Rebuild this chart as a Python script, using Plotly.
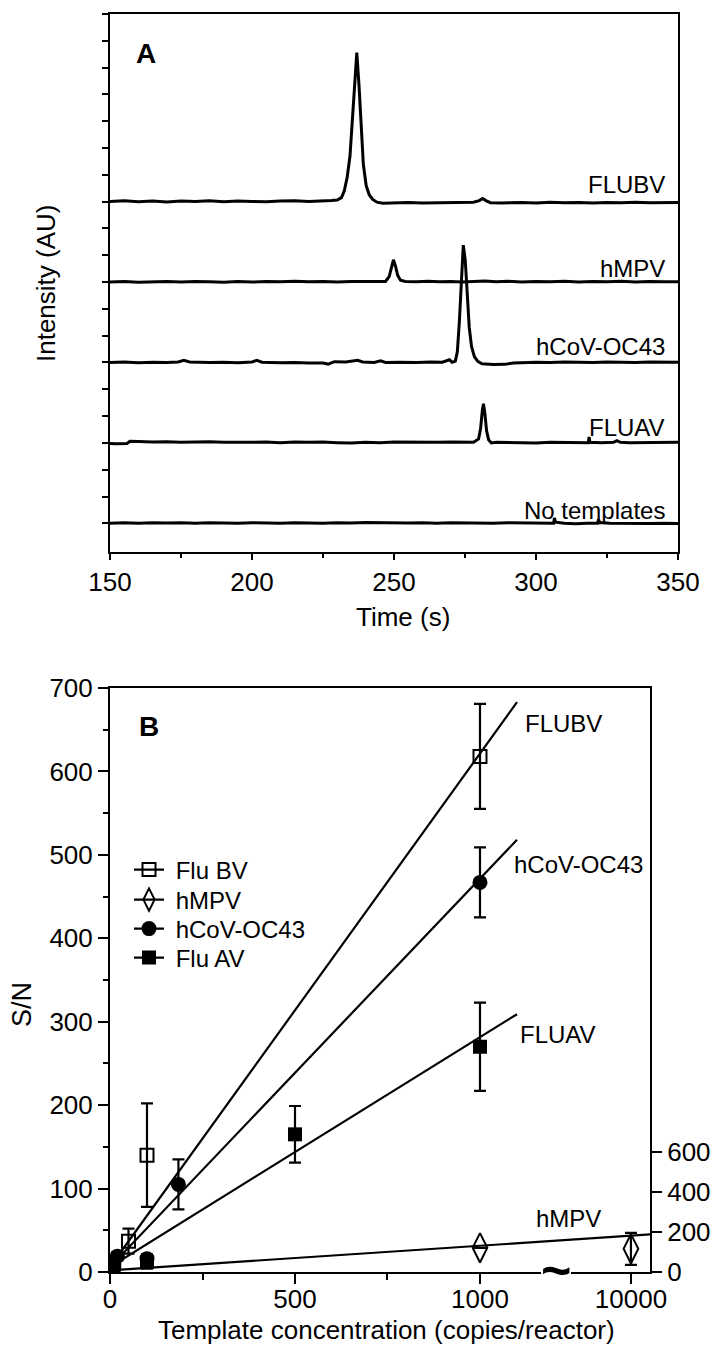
import plotly.graph_objects as go

W, H = 718, 1346
FONT = "Liberation Sans, Arial, Helvetica, sans-serif"


def xp(px):
    return px / W


def yp(py):
    return 1 - py / H


# ---------------- Panel A: electropherograms (time s, intensity AU above baseline) ----------------
TRACE_NAMES = ["FLUBV", "hMPV", "hCoV-OC43", "FLUAV", "No templates"]
TRACE_OFFSETS = [13, 10, 7, 4, 1]

FLUBV_TRACE = [
    (150, 0.01), (155, 0.03), (160, 0.0), (165, 0.02), (170, -0.01), (175, 0.02), (180, 0.01),
    (185, 0.03), (190, 0.0), (195, 0.02), (200, 0.01), (205, 0.0), (210, 0.02), (215, 0.03),
    (220, 0.01), (225, 0.02), (228, 0.04), (230, 0.06), (231.5, 0.15), (232.5, 0.4), (233.5, 0.9),
    (234.5, 1.7), (235.3, 2.9), (236.1, 4.4), (236.9, 5.56), (237.7, 4.3), (238.4, 2.7),
    (239.2, 1.4), (240.2, 0.6), (241.3, 0.25), (242.5, 0.08), (244, -0.02), (246, -0.06),
    (250, -0.05), (255, -0.03), (260, -0.05), (265, -0.04), (270, -0.05), (275, -0.03),
    (278, -0.02), (280, 0.04), (281.2, 0.12), (282.5, 0.03), (284, -0.04), (288, -0.05),
    (295, -0.03), (300, -0.05), (305, -0.02), (310, -0.04), (315, -0.03), (320, -0.05),
    (325, -0.03), (330, -0.04), (335, -0.02), (340, -0.04), (345, -0.03), (350, -0.03),
]
HMPV_TRACE = [
    (150, 0.0), (155, 0.02), (160, -0.01), (165, 0.01), (170, 0.02), (175, 0.0), (180, 0.02),
    (185, 0.01), (190, -0.01), (195, 0.02), (200, 0.0), (205, 0.02), (210, 0.01), (215, 0.03),
    (220, 0.01), (225, 0.02), (230, 0.0), (235, 0.02), (240, 0.01), (244, 0.03), (247, 0.02),
    (248.3, 0.2), (249.1, 0.6), (249.8, 0.83), (250.5, 0.6), (251.3, 0.25), (252.3, 0.07),
    (254, 0.02), (258, 0.01), (262, 0.03), (266, 0.01), (270, 0.02), (274, 0.0), (278, 0.02),
    (282, 0.04), (286, 0.01), (290, 0.03), (295, 0.0), (300, 0.02), (305, 0.01), (310, 0.03),
    (315, 0.0), (320, 0.02), (325, 0.01), (330, 0.03), (335, 0.0), (340, 0.02), (345, 0.01),
    (350, 0.01),
]
HCOV_TRACE = [
    (150, 0.0), (155, 0.02), (160, -0.01), (165, 0.01), (170, 0.0), (174, 0.02), (176, 0.08),
    (178, 0.02), (185, 0.0), (190, 0.01), (195, -0.01), (200, 0.02), (201.7, 0.08), (203.5, 0.01),
    (210, -0.01), (215, 0.0), (220, -0.02), (225, -0.02), (226.8, -0.06), (229, 0.03), (233, 0.02),
    (237.2, 0.08), (239, 0.02), (243, 0.0), (245.3, 0.06), (247, 0.0), (252, 0.01), (258, 0.0),
    (263, 0.02), (267, 0.01), (269.5, 0.1), (270.5, 0.01), (271.6, 0.05), (272.3, 0.4),
    (273, 1.5), (273.7, 3.2), (274.4, 4.38), (275.1, 3.8), (275.8, 2.5), (276.5, 1.3),
    (277.3, 0.6), (278.3, 0.22), (279.5, 0.04), (281, -0.05), (285, -0.08), (289, -0.07),
    (292, -0.02), (296, 0.0), (300, 0.01), (305, 0.0), (310, 0.02), (315, 0.01), (320, 0.0),
    (325, 0.02), (330, 0.01), (335, 0.0), (340, 0.02), (345, 0.01), (350, 0.01),
]
FLUAV_TRACE = [
    (150, -0.02), (152, -0.03), (156, -0.02), (157, 0.06), (160, 0.05), (165, 0.03), (170, 0.04),
    (175, 0.02), (180, 0.03), (185, 0.04), (190, 0.02), (195, 0.03), (200, 0.02), (205, 0.03),
    (210, 0.01), (215, 0.03), (220, 0.02), (225, 0.03), (230, 0.01), (235, 0.0), (240, 0.02),
    (245, 0.01), (250, 0.03), (255, 0.02), (260, 0.01), (265, 0.02), (270, 0.03), (275, 0.01),
    (278, 0.02), (279.8, 0.15), (280.5, 0.55), (281.1, 1.2), (281.5, 1.46), (282, 1.1),
    (282.6, 0.45), (283.3, 0.12), (284.3, 0.0), (286, 0.02), (290, 0.01), (295, 0.02),
    (300, 0.0), (305, 0.02), (310, 0.01), (315, 0.02), (318.4, 0.01), (318.7, 0.22),
    (319.0, 0.02), (323, 0.01), (327.3, 0.02), (328.5, 0.08), (329.7, 0.02), (333, 0.01),
    (338, 0.02), (343, 0.01), (350, 0.02),
]
NOTEMPLATE_TRACE = [
    (150, 0.0), (155, 0.02), (160, 0.0), (165, 0.02), (170, 0.01), (175, 0.02), (180, 0.0),
    (185, 0.02), (190, 0.01), (195, 0.0), (200, 0.02), (205, 0.01), (210, 0.0), (215, 0.02),
    (220, 0.01), (225, 0.0), (230, 0.02), (235, 0.01), (240, 0.03), (245, 0.02), (250, 0.03),
    (255, 0.01), (260, 0.02), (265, 0.0), (270, 0.02), (275, 0.01), (280, 0.02), (285, 0.0),
    (290, 0.02), (295, 0.01), (300, 0.0), (303, 0.01), (306.2, 0.0), (306.5, 0.2), (306.9, 0.04),
    (310, 0.0), (314, -0.02), (318, 0.0), (321.7, 0.0), (322, 0.15), (322.4, 0.03), (326, 0.0),
    (330, -0.01), (335, 0.0), (340, -0.01), (345, 0.0), (350, -0.01),
]
TRACES_A = [FLUBV_TRACE, HMPV_TRACE, HCOV_TRACE, FLUAV_TRACE, NOTEMPLATE_TRACE]
TIME_TICKS = [150, 200, 250, 300, 350]

# ---------------- Panel B: S/N vs template concentration ----------------
FLUBV_X = [10, 50, 100, 1000]
FLUBV_Y = [12, 37, 140, 618]
FLUBV_ERR = [5, 15, 62, 63]

HCOV_X = [5, 20, 100, 185, 1000]
HCOV_Y = [10, 19, 16, 105, 467]
HCOV_ERR = [4, 5, 5, 30, 42]

FLUAV_X = [10, 100, 500, 1000]
FLUAV_Y = [8, 12, 165, 270]
FLUAV_ERR = [3, 8, 34, 53]

HMPV_X = [1000]
HMPV_Y = [29]
HMPV_ERR = [0]
# value at 10000 copies, read on the right-hand axis
HMPV_HIGH_X = [10000]
HMPV_HIGH_Y = [116]
HMPV_HIGH_ERR = [80]

# fitted straight lines (start / end points, left-axis units)
FIT_NAMES = ["FLUBV", "hCoV-OC43", "FLUAV", "hMPV"]
FIT_X = [[0, 1100], [0, 1100], [0, 1100], [0, 1459.5]]
FIT_Y = [[6, 683], [6, 518], [6, 309], [2, 45]]

CONC_TICKS = [0, 500, 1000, 10000]
CONC_TICK_LABELS = ["0", "500", "1000", "10000"]
CONC_MINOR = [250, 750]
SN_TICKS = [0, 100, 200, 300, 400, 500, 600, 700]
RIGHT_TICKS = [0, 200, 400, 600]

# broken x axis: 10000 copies is drawn after the break
BROKEN_POS = {10000: 1408}


def cx(v):
    return BROKEN_POS.get(v, v)


fig = go.Figure()

# Panel A traces
for pts, off in zip(TRACES_A, TRACE_OFFSETS):
    fig.add_trace(go.Scatter(
        x=[p[0] for p in pts], y=[p[1] + off for p in pts], mode="lines",
        line=dict(color="black", width=3), xaxis="x", yaxis="y", showlegend=False,
        hoverinfo="skip"))

# Panel B fit lines
for fx, fy in zip(FIT_X, FIT_Y):
    fig.add_trace(go.Scatter(x=fx, y=fy, mode="lines", line=dict(color="black", width=2.2),
                             xaxis="x2", yaxis="y2", showlegend=False, hoverinfo="skip"))

EB = dict(type="data", thickness=2.2, width=6, color="black")

SERIES = [
    ("Flu BV", FLUBV_X, FLUBV_Y, FLUBV_ERR, dict(symbol="square-open", size=13, color="black",
                                                 line=dict(width=2, color="black"))),
    ("hMPV", HMPV_X, HMPV_Y, HMPV_ERR, dict(symbol="diamond-tall-open", size=21, color="black",
                                           line=dict(width=2, color="black"))),
    ("hCoV-OC43", HCOV_X, HCOV_Y, HCOV_ERR, dict(symbol="circle", size=15, color="black")),
    ("Flu AV", FLUAV_X, FLUAV_Y, FLUAV_ERR, dict(symbol="square", size=14, color="black")),
]
for name, xs, ys, es, mk in SERIES:
    fig.add_trace(go.Scatter(x=[cx(v) for v in xs], y=ys, mode="markers", marker=mk,
                             error_y=dict(array=es, **EB), xaxis="x2", yaxis="y2",
                             showlegend=False, hoverinfo="skip"))

fig.add_trace(go.Scatter(x=[cx(v) for v in HMPV_HIGH_X], y=HMPV_HIGH_Y, mode="markers",
                         marker=SERIES[1][4], error_y=dict(array=HMPV_HIGH_ERR, **EB),
                         xaxis="x2", yaxis="y3", showlegend=False, hoverinfo="skip"))

# legend entries (one legend per entry for exact spacing)
LEG_NAMES = ["legend", "legend2", "legend3", "legend4"]
for (name, xs, ys, es, mk), lg in zip(SERIES, LEG_NAMES):
    fig.add_trace(go.Scatter(x=[None], y=[None], mode="lines+markers", name="\u00a0" + name,
                             marker=dict(mk), line=dict(color="black", width=2.2),
                             xaxis="x2", yaxis="y2", showlegend=True, legend=lg))

LEG_X = 129
LEG_Y = [870, 900, 929, 958]
leg_common = dict(xanchor="left", yanchor="middle", bgcolor="rgba(0,0,0,0)", borderwidth=0,
                  font=dict(size=24, family=FONT, color="black"), itemwidth=30)
legends = {lg: dict(x=xp(LEG_X), y=yp(ly), **leg_common) for lg, ly in zip(LEG_NAMES, LEG_Y)}

axis_common = dict(showline=True, linecolor="black", linewidth=2, mirror=True, showgrid=False,
                   zeroline=False, ticks="outside", tickcolor="black", tickwidth=2,
                   automargin=False, tickfont=dict(size=26, family=FONT, color="black"))

annotations = []


def ann(text, x, y, size=24, xanchor="center", yanchor="middle", bold=False, angle=0):
    annotations.append(dict(text=("<b>%s</b>" % text) if bold else text, x=xp(x), y=yp(y),
                            xref="paper", yref="paper", showarrow=False, xanchor=xanchor,
                            yanchor=yanchor, textangle=angle,
                            font=dict(size=size, family=FONT, color="black")))


# Panel A labels
for name, cy in zip(TRACE_NAMES, [185, 269, 347, 427, 510]):
    ann(name, 667, cy, size=24, xanchor="right")
ann("A", 145.5, 53.5, size=28, bold=True)
ann("Intensity (AU)", 46, 283, size=26, angle=-90)
ann("Time (s)", 403, 617, size=26)

# Panel B labels
for name, lx, cy in zip(FIT_NAMES, [523, 512, 518, 534], [723, 864, 1034.5, 1218]):
    ann(name, lx, cy, size=24, xanchor="left")
ann("B", 149.3, 726.3, size=28, bold=True)
ann("S/N", 22, 1005, size=27, angle=-90)
ann("Template concentration (copies/reactor)", 386, 1330, size=26)
ann("~", 556, 1270, size=52, bold=True)

shapes = [dict(type="rect", xref="paper", yref="paper", x0=xp(541), x1=xp(571),
               y0=yp(1276), y1=yp(1268), fillcolor="white", line=dict(width=0), layer="above")]

fig.update_layout(
    template="none",
    width=W, height=H, margin=dict(l=0, r=0, t=0, b=0, pad=0, autoexpand=False),
    paper_bgcolor="white", plot_bgcolor="white",
    font=dict(family=FONT, color="black"),
    xaxis=dict(domain=[xp(110), xp(678)], range=[150, 350], anchor="y", tickvals=TIME_TICKS,
               ticklen=6, minor=dict(tickvals=[175, 225, 275, 325], ticklen=4, ticks="outside",
                                     tickcolor="black", tickwidth=2), **axis_common),
    yaxis=dict(domain=[yp(552), yp(14)], range=[-0.07, 20], anchor="x",
               tickvals=list(range(1, 21)), showticklabels=False, ticklen=6, **axis_common),
    xaxis2=dict(domain=[xp(110), xp(650)], range=[0, 1459.5], anchor="y2",
                tickvals=[cx(v) for v in CONC_TICKS], ticktext=CONC_TICK_LABELS, ticklen=10,
                ticklabelstandoff=-7,
                minor=dict(tickvals=CONC_MINOR, ticklen=6, ticks="outside", tickcolor="black",
                           tickwidth=2), **axis_common),
    yaxis2=dict(domain=[yp(1272), yp(688)], range=[0, 700], anchor="x2", tickvals=SN_TICKS,
                ticklen=10, minor=dict(dtick=50, ticklen=5, ticks="outside", tickcolor="black",
                                       tickwidth=2), **axis_common),
    yaxis3=dict(overlaying="y2", side="right", anchor="x2", range=[0, 2920],
                tickvals=RIGHT_TICKS, ticklen=10, showline=True, linecolor="black", linewidth=2,
                showgrid=False, zeroline=False, ticks="outside", tickcolor="black", tickwidth=2,
                automargin=False, tickfont=dict(size=26, family=FONT, color="black")),
    annotations=annotations, shapes=shapes, showlegend=True,
    **legends,
)

# the page's default 8px body margin would shift the figure; remove it
fig.write_html("out.html", config={"displayModeBar": False, "staticPlot": True},
               post_script="document.body.style.margin='0';document.body.style.overflow='hidden';")
